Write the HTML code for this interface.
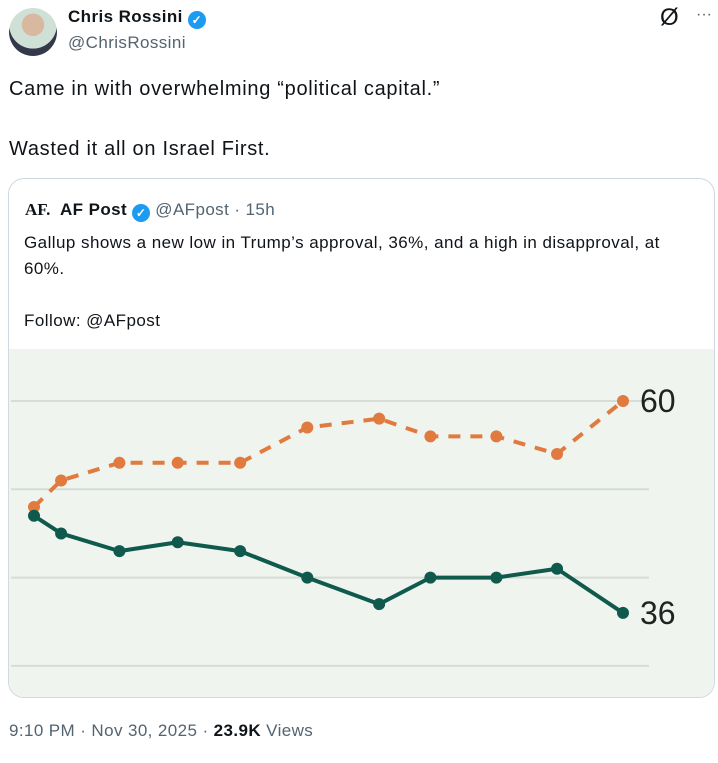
<!DOCTYPE html>
<html><head><meta charset="utf-8"><style>
body{margin:0;width:718px;height:763px;background:#fff;font-family:"Liberation Sans",sans-serif;color:#0f1419;position:relative;overflow:hidden}
.abs{position:absolute}
</style></head><body>
<div class="abs" style="left:9px;top:8px;width:48px;height:48px;border-radius:50%;background:radial-gradient(circle at 50% 35%,#d9b8a0 0 28%,#cfe0d6 29% 60%,#33384a 61%);"></div>
<div class="abs" style="left:68px;top:7px;font-size:17px;font-weight:bold;letter-spacing:0.4px">Chris Rossini <span style="display:inline-block;width:18px;height:18px;border-radius:50%;background:#1d9bf0;color:#fff;font-size:12px;text-align:center;line-height:18px;vertical-align:-2px">✓</span></div>
<div class="abs" style="left:68px;top:33px;font-size:17px;color:#536471;letter-spacing:0.4px">@ChrisRossini</div>
<div class="abs" style="left:660px;top:4px;font-size:24px;color:#0f1419">Ø</div>
<div class="abs" style="left:696px;top:6px;font-size:16px;color:#536471">···</div>
<div class="abs" style="left:9px;top:74px;font-size:20px;line-height:30px;letter-spacing:0.7px">Came in with overwhelming “political capital.”<br><br>Wasted it all on Israel First.</div>
<div class="abs" style="left:8px;top:178px;width:705px;height:518px;border:1px solid #cfd9de;border-radius:16px;overflow:hidden">
 <div class="abs" style="left:16px;top:21px;font-family:'Liberation Serif',serif;font-size:17px;font-weight:bold">AF.</div>
 <div class="abs" style="left:51px;top:21px;font-size:17px;font-weight:bold;letter-spacing:0.4px">AF Post <span style="display:inline-block;width:18px;height:18px;border-radius:50%;background:#1d9bf0;color:#fff;font-size:12px;text-align:center;line-height:18px;vertical-align:-2px">✓</span> <span style="font-weight:normal;color:#536471">@AFpost · 15h</span></div>
 <div class="abs" style="left:15px;top:51px;font-size:17px;line-height:26px;width:690px;letter-spacing:0.45px">Gallup shows a new low in Trump’s approval, 36%, and a high in disapproval, at<br>60%.<br><br>Follow: @AFpost</div>
 <svg id="chart" class="abs" style="left:0;top:170px" width="705" height="348"></svg>
</div>
<div class="abs" style="left:9px;top:721px;font-size:17px;color:#536471;letter-spacing:0.4px">9:10 PM · Nov 30, 2025 · <b style="color:#0f1419">23.9K</b> Views</div>
<script>
const periods=[0,0.46,1.45,2.44,3.5,4.64,5.86,6.73,7.85,8.88,10];
const disapprove=[48,51,53,53,53,57,58,56,56,54,60];
const approve=[47,45,43,44,43,40,37,40,40,41,36];
const gridVals=[60,50,40,30];
const svg=document.getElementById('chart');
const NS='http://www.w3.org/2000/svg';
const X=p=>25+p*(614-25)/10;
function Yv(v){return 401-349-(v-60)*8.83;}
function mk(t,a){const e=document.createElementNS(NS,t);for(const k in a)e.setAttribute(k,a[k]);svg.appendChild(e);return e;}
const bg=mk('rect',{x:0,y:0,width:705,height:348,fill:'#eff4ef'});


gridVals.forEach(v=>{const g=mk('line',{x1:2,x2:640,y1:Yv(v),y2:Yv(v),stroke:'#d6dcd6','stroke-width':2});

});
function series(vals,color,dash,name){
 const pts=vals.map((v,i)=>X(periods[i])+','+Yv(v)).join(' ');
 const l=mk('polyline',{points:pts,fill:'none',stroke:color,'stroke-width':4,'stroke-dasharray':dash,'stroke-linejoin':'round'});
 
 
 vals.forEach((v,i)=>{const c=mk('circle',{cx:X(periods[i]),cy:Yv(v),r:6,fill:color});
 
 });
 const last=vals[vals.length-1];
 const t=mk('text',{x:X(periods[vals.length-1])+17,y:Yv(last)+11,'font-size':32,fill:'#222','font-family':'Liberation Sans, sans-serif'});
 t.textContent=last;
 
 
}
series(disapprove,'#e07a3f','12 10','disapproval');
series(approve,'#0f5a4d','none','approval');
</script>
</body></html>
